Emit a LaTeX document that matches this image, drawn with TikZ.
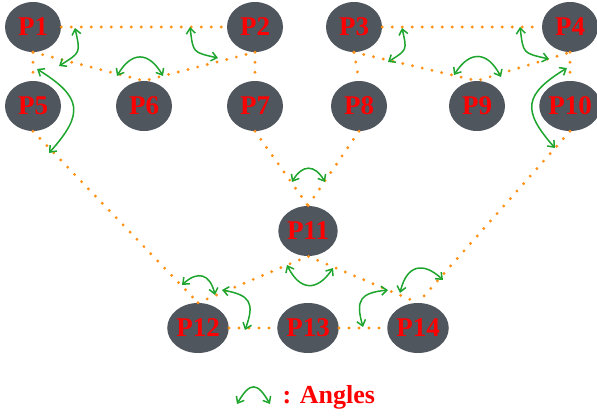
\documentclass[tikz,border=0pt]{standalone}
\usepackage{fontspec}
\setmainfont{Liberation Serif}
\usetikzlibrary{shapes.geometric,arrows.meta}

\definecolor{nodegray}{RGB}{80,86,94}
\definecolor{dotorange}{RGB}{255,145,20}
\definecolor{anglegreen}{RGB}{30,165,45}

\begin{document}
\begin{tikzpicture}[
        x=1pt, y=-1pt,
        point/.style={ellipse, fill=nodegray, minimum width=56pt, minimum height=50pt,
                      inner sep=0pt, text=red, font=\fontsize{27}{27}\selectfont\bfseries},
        link/.style={dotorange, line width=3.2pt, line cap=round, dash pattern=on 0pt off 10pt},
        angle/.style={{Straight Barb[length=5.5pt,width=9pt]}-{Straight Barb[length=5.5pt,width=9pt]},
                      anglegreen, line width=1.5pt, looseness=1.6}
    ]
        \useasboundingbox (0,0) rectangle (597,415);

        \node[point] (P1) at (33,27) {P1};
        \node[point] (P2) at (255,27) {P2};
        \node[point] (P3) at (354,27) {P3};
        \node[point] (P4) at (570,27) {P4};
        \node[point] (P5) at (33,106) {P5};
        \node[point] (P6) at (144,106) {P6};
        \node[point] (P7) at (255,106) {P7};
        \node[point] (P8) at (359,106) {P8};
        \node[point] (P9) at (477,106) {P9};
        \node[point] (P10) at (570,106) {P10};
        \node[point] (P11) at (308,231) {P11};
        \node[point] (P12) at (198,328) {P12};
        \node[point] (P13) at (308,328) {P13};
        \node[point] (P14) at (418,328) {P14};

        \draw[link] (P1.east) -- (P2.west);
        \draw[link] (P1.south) -- (P6.north) -- (P2.south);
        \draw[link] (P1.south) -- (P5.north);
        \draw[link] (P2.south) -- (P7.north);
        \draw[link] (P3.east) -- (P4.west);
        \draw[link] (P3.south) -- (P9.north) -- (P4.south);
        \draw[link] (P3.south) -- (P8.north);
        \draw[link] (P4.south) -- (P10.north);
        \draw[link] (P7.south) -- (P11.north);
        \draw[link] (P8.south) -- (P11.north);
        \draw[link] (P5.south) -- (P12.north);
        \draw[link] (P10.south) -- (P14.north);
        \draw[link] (P12.north) -- (P11.south) -- (P14.north);
        \draw[link] (P12.east) -- (P13.west);
        \draw[link] (P13.east) -- (P14.west);

        \coordinate (a1) at (75,28);   \coordinate (b1) at (59,66);
        \coordinate (a2) at (37,69);   \coordinate (b2) at (49,153);
        \coordinate (a3) at (117,76);  \coordinate (b3) at (163,76);
        \coordinate (a4) at (190,27);  \coordinate (b4) at (218,58);
        \coordinate (a5) at (402,28);  \coordinate (b5) at (388,62);
        \coordinate (a6) at (454,75);  \coordinate (b6) at (501,77);
        \coordinate (a7) at (520,27);  \coordinate (b7) at (549,59);
        \coordinate (a8) at (567,68);  \coordinate (b8) at (555,148);
        \coordinate (a9) at (292,182); \coordinate (b9) at (325,182);
        \coordinate (a10) at (287,265); \coordinate (b10) at (333,268);
        \coordinate (a11) at (182,285); \coordinate (b11) at (215,295);
        \coordinate (a12) at (222,290); \coordinate (b12) at (245,330);
        \coordinate (a13) at (388,290); \coordinate (b13) at (363,327);
        \coordinate (a14) at (400,293); \coordinate (b14) at (443,280);

        \draw[angle] (a1) to[bend left=35] (b1);
        \draw[angle] (a2) to[bend left=50] (b2);
        \draw[angle] (a3) to[bend left=60] (b3);
        \draw[angle] (a4) to[bend right=35] (b4);
        \draw[angle] (a5) to[bend left=35] (b5);
        \draw[angle] (a6) to[bend left=60] (b6);
        \draw[angle] (a7) to[bend right=35] (b7);
        \draw[angle] (a8) to[bend right=50] (b8);
        \draw[angle] (a9) to[bend left=60] (b9);
        \draw[angle] (a10) to[bend right=60] (b10);
        \draw[angle] (a11) to[bend left=60] (b11);
        \draw[angle] (a12) to[bend left=50] (b12);
        \draw[angle] (a13) to[bend right=50] (b13);
        \draw[angle] (a14) to[bend left=60] (b14);

        \coordinate (legA) at (237,404);
        \coordinate (legB) at (270,404);
        \draw[angle, looseness=2] (legA) to[bend left=60] (legB);
        \node[anchor=west, text=red, font=\fontsize{26}{26}\selectfont\bfseries] (legend) at (279,397) {: Angles};
    \end{tikzpicture}
\end{document}
